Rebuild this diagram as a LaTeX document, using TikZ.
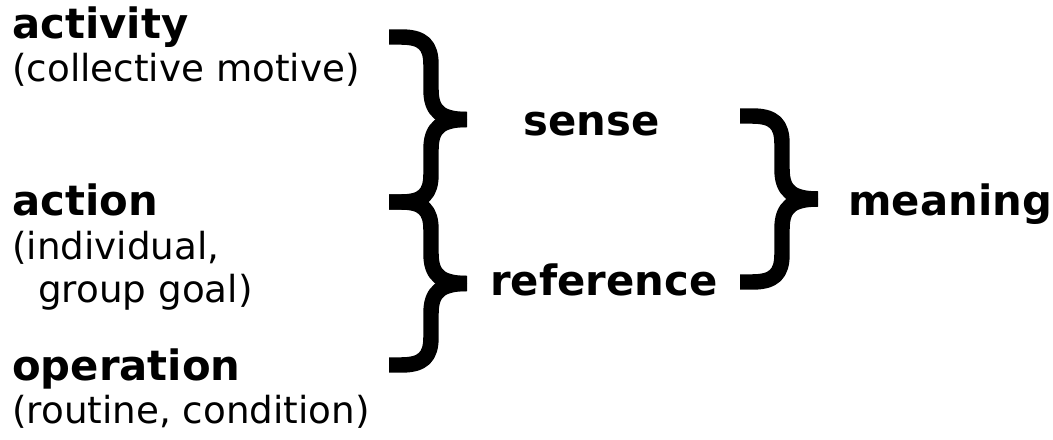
\documentclass[tikz,border=0pt]{standalone}
\usepackage{fontspec}
\setmainfont{DejaVu Sans}
% curly brace: left x, top y, bottom y (pixel units)
\newcommand{\curly}[3]{%
  \draw[bracestroke] (#1,#2) -- ({#1+12},#2)
    .. controls ({#1+34},#2) and ({#1+42},{#2+8}) .. ({#1+42},{#2+28})
    -- ({#1+42},{(#2+#3)/2-30})
    .. controls ({#1+42},{(#2+#3)/2-8}) and ({#1+52},{(#2+#3)/2}) .. ({#1+78},{(#2+#3)/2});
  \draw[bracestroke] ({#1+78},{(#2+#3)/2})
    .. controls ({#1+52},{(#2+#3)/2}) and ({#1+42},{(#2+#3)/2+8}) .. ({#1+42},{(#2+#3)/2+30})
    -- ({#1+42},{#3-28})
    .. controls ({#1+42},{#3-8}) and ({#1+34},#3) .. ({#1+12},#3) -- (#1,#3);
}

\begin{document}
\begin{tikzpicture}[x=0.025cm, y=-0.025cm,
    term/.style = {anchor=base west, inner sep=0pt, font=\fontsize{29.7}{34}\selectfont\bfseries},
    note/.style = {anchor=base west, inner sep=0pt, font=\fontsize{26.5}{30}\selectfont},
    bracestroke/.style = {line width=11pt, line cap=butt, line join=round}]
  \useasboundingbox (0,0) rectangle (1053,440);

  \node[term] (activity) at (12,39) {activity};
  \node[note] (activitynote) at (12,82) {(collective motive)};
  \node[term] (action) at (12,215) {action};
  \node[note] (actionnote) at (12,259) {(individual,};
  \node[note] (actionnote2) at (38,302) {group goal)};
  \node[term] (operation) at (12,380) {operation};
  \node[note] (operationnote) at (12,423) {(routine, condition)};

  \node[term] (sense) at (523,135) {sense};
  \node[term] (reference) at (490,295) {reference};
  \node[term] (meaning) at (848,215) {meaning};

  \curly{389}{37}{202}
  \curly{389}{202}{365}
  \curly{740}{116}{282}
\end{tikzpicture}
\end{document}
